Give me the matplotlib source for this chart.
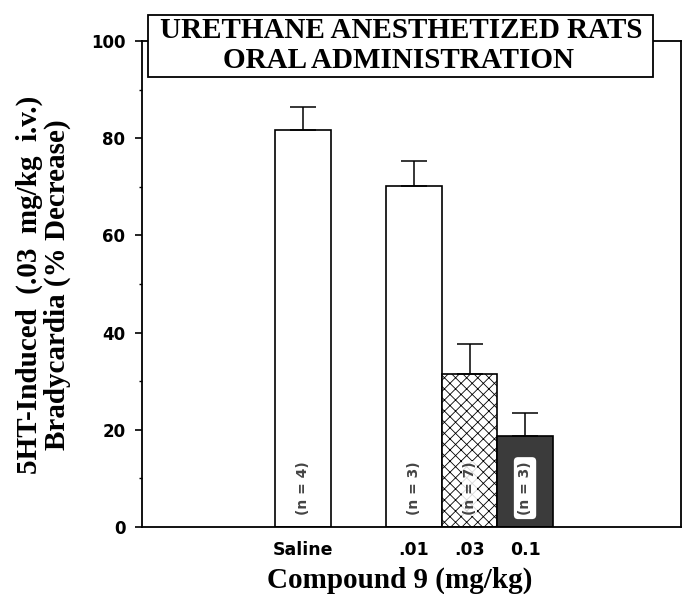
import matplotlib.pyplot as plt
from matplotlib.patches import Rectangle
from matplotlib.ticker import MultipleLocator

groups = ["Saline", ".01", ".03", "0.1"]
means = [81.7, 70.2, 31.5, 18.8]
sems = [4.7, 5.1, 6.1, 4.7]
n_labels = ["(n = 4)", "(n = 3)", "(n = 7)", "(n = 3)"]

serif = ["Liberation Serif", "DejaVu Serif"]

fig = plt.figure(figsize=(6.82, 5.94), dpi=100)
ax = fig.add_axes([142 / 682, 67 / 594, 539 / 682, 486 / 594])

xpos = [0, 2, 3, 4]
faces = ["white", "white", "white", "#3b3b3b"]
hatches = [None, None, "xxx", None]

plt.rcParams["hatch.linewidth"] = 0.6
plt.rcParams["hatch.color"] = "#a0a0a0"

bars = ax.bar(xpos, means, width=1.0, color=faces, edgecolor="black",
              linewidth=1.2, zorder=2)
for b, h in zip(bars, hatches):
    if h:
        b.set_hatch(h)
        b.set_edgecolor("black")

ax.errorbar(xpos, means, yerr=[[0] * len(sems), sems], fmt="none",
            ecolor="black", elinewidth=1.1, capsize=9.5, capthick=1.1, zorder=3)

for i, (x, lab) in enumerate(zip(xpos, n_labels)):
    box = None
    if i == 2:
        box = dict(boxstyle="square,pad=0.05", fc="white", ec="none", alpha=0.85)
    if i == 3:
        box = dict(boxstyle="round,pad=0.3,rounding_size=0.3", fc="white", ec="none")
    ax.text(x, 8, lab, rotation=90, ha="center", va="center", fontsize=10,
            fontweight="bold", color="#444444", bbox=box, zorder=4)

ax.set_xlim(-2.9, 6.81)
ax.set_ylim(0, 100)
ax.set_xticks(xpos)
ax.set_xticklabels(groups, fontsize=12.5, fontweight="bold", family="DejaVu Sans")
ax.tick_params(axis="x", length=0, pad=10)
ax.yaxis.set_major_locator(MultipleLocator(20))
ax.yaxis.set_minor_locator(MultipleLocator(10))
ax.tick_params(axis="y", which="major", length=5, width=1.2, pad=7, labelsize=12)
ax.tick_params(axis="y", which="minor", length=2.5, width=1.0)
for t in ax.get_yticklabels():
    t.set_fontweight("bold")
for s in ax.spines.values():
    s.set_linewidth(1.3)

ax.set_xlabel("Compound 9 (mg/kg)", fontsize=21, fontweight="bold", family=serif)
ax.xaxis.set_label_coords(0.479, -0.109)
ax.xaxis.label.set_va("center")
ax.set_ylabel("5HT-Induced  (.03  mg/kg  i.v.)\nBradycardia (% Decrease)",
              fontsize=21, fontweight="bold", family=serif, linespacing=1.0)
ax.yaxis.set_label_coords(-0.183, 0.498)
ax.yaxis.label.set_va("center")

fig.patches.append(Rectangle((148 / 682, 1 - 77 / 594), 505 / 682, 62 / 594,
                             transform=fig.transFigure, fc="white", ec="black",
                             lw=1.3, zorder=5))
fig.text(0.589, 1 - 31 / 594, "URETHANE ANESTHETIZED RATS", ha="center",
         va="center", fontsize=21, fontweight="bold", family=serif, zorder=6)
fig.text(0.585, 1 - 60 / 594, "ORAL ADMINISTRATION", ha="center",
         va="center", fontsize=21, fontweight="bold", family=serif, zorder=6)

plt.savefig("out.png")
plt.close()
